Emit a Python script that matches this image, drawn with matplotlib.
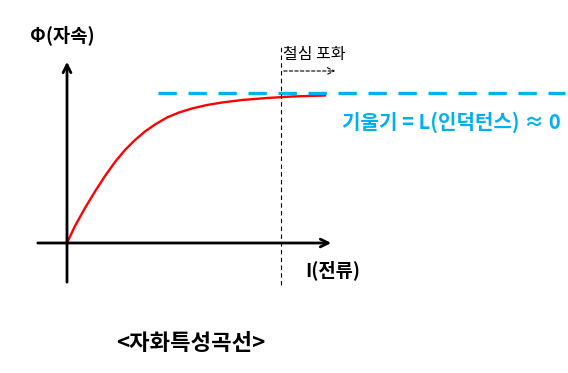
import numpy as np
import matplotlib.pyplot as plt

plt.rcParams['font.family'] = ['Noto Sans CJK KR', 'DejaVu Sans']

# magnetization curve (current vs flux)
current = [0, 8, 18, 28, 38, 48, 58, 68, 78, 88, 100, 112, 125, 140, 155,
           175, 200, 225, 258]
flux = [0, 17, 35, 51.5, 67, 81, 93, 103, 111.5, 118.5, 125.5, 130.5, 134.5, 138,
        140.5, 143, 145, 146.5, 147.5]
saturation_flux = 150
saturation_current = 214

fig = plt.figure(figsize=(5.68, 3.73), dpi=100)
ax = fig.add_axes([0, 0, 1, 1])
ax.set_xlim(-67, 501)
ax.set_ylim(-130, 243)
ax.axis('off')

# axes with arrows
ax.annotate('', xy=(267, 0), xytext=(-32, 0),
            arrowprops=dict(arrowstyle='->', color='black', lw=2, mutation_scale=14))
ax.annotate('', xy=(0, 184), xytext=(0, -42),
            arrowprops=dict(arrowstyle='->', color='black', lw=2, mutation_scale=14))

# curve
ax.plot(current, flux, color='red', lw=1.7, solid_joinstyle='round')

# saturation level
ax.plot([91, 498], [saturation_flux, saturation_flux], color='#00b0f0', lw=2.4,
        dashes=(5.5, 3.5))

# saturation marker
ax.plot([saturation_current, saturation_current], [-42, 198], color='black', lw=0.8,
        dashes=(4, 3))
ax.annotate('', xy=(271, 172), xytext=(saturation_current, 172),
            arrowprops=dict(arrowstyle='->', color='black', lw=0.8, linestyle=(0, (3, 2)),
                            mutation_scale=12))
ax.text(saturation_current + 2, 188, '철심 포화', fontsize=11.5, ha='left', va='center')

# labels
ax.text(-37, 208, 'Φ(자속)', fontsize=13.5, fontweight='bold', ha='left', va='center')
ax.text(238, -27, 'I(전류)', fontsize=13.5, fontweight='bold', ha='left', va='center')
ax.text(275, 121, '기울기 = L(인덕턴스) ≈ 0', fontsize=14.5, fontweight='bold',
        color='#00b0f0', ha='left', va='center')
ax.text(124, -100, '<자화특성곡선>', fontsize=16, fontweight='bold', ha='center', va='center')

fig.savefig('out.png', dpi=100)
